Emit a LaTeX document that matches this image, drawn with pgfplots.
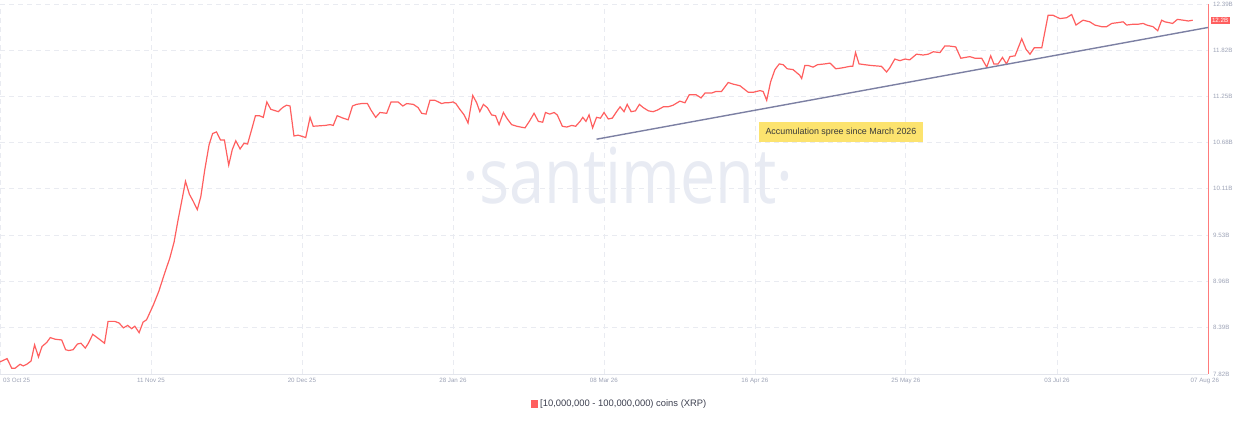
\documentclass[border=0pt]{standalone}
\usepackage{fontspec}
\setmainfont{Liberation Sans}
\newfontfamily\wmfont{Open Sans}
\usepackage{pgfplots}
\pgfplotsset{compat=1.18}
\definecolor{xrpline}{HTML}{FF5F5F}
\definecolor{axisred}{HTML}{FF7B7B}
\definecolor{axisgray}{HTML}{E3E5EC}
\definecolor{gridgray}{HTML}{E9EBF1}
\definecolor{ticktext}{HTML}{9DA3B6}
\definecolor{trend}{HTML}{7C80A3}
\definecolor{annofill}{HTML}{FCE36E}
\definecolor{annotext}{HTML}{3A3A3A}
\definecolor{wmark}{HTML}{E8EBF3}
\definecolor{legendtext}{HTML}{3C3F4F}

\begin{document}
\begin{tikzpicture}
\path[use as bounding box] (0,0) rectangle (1241pt,420pt);
% watermark behind everything
\node[anchor=base, text=wmark, font=\wmfont\fontsize{77}{80}\selectfont,
      xscale=0.82, inner sep=0pt] at (628pt,216pt) {·santiment·};

\begin{axis}[
    at={(0pt,46pt)}, anchor=south west,
    scale only axis, width=1208pt, height=370pt,
    xmin=0.6, xmax=308, ymin=7.82, ymax=12.39,
    axis x line*=bottom, axis y line*=right,
    x axis line style={draw=axisgray, line width=0.8pt, -},
    y axis line style={draw=axisred, line width=1pt, -},
    major tick length=0pt,
    grid=major,
    major grid style={draw=gridgray, line width=0.8pt, dash pattern=on 5pt off 4pt},
    xtick={39.01,77.43,115.86,154.28,192.70,231.12,269.57},
    xticklabels={11 Nov 25,20 Dec 25,28 Jan 26,08 Mar 26,16 Apr 26,25 May 26,03 Jul 26},
    extra x ticks={0.6},
    extra x tick labels={03 Oct 25},
    extra x tick style={xticklabel style={anchor=north west, xshift=3pt}},
    ytick={7.82,8.39,8.96,9.53,10.11,10.68,11.25,11.82,12.39},
    yticklabels={7.82B,8.39B,8.96B,9.53B,10.11B,10.68B,11.25B,11.82B,12.39B},
    ticklabel style={font=\fontsize{6.2}{7}\selectfont, text=ticktext, inner sep=0pt},
    xticklabel style={yshift=-4pt},
    yticklabel style={xshift=5pt},
    clip=false,
    legend style={draw=none, fill=none, at={(axis description cs:0.513,-0.081)},
        anchor=center, font=\fontsize{9.4}{10}\selectfont, text=legendtext},
    legend image code/.code={\fill[xrpline] (0pt,-3pt) rectangle (6pt,3pt);},
]

\addplot[xrpline, line width=1.2pt] coordinates {
(0.6,7.97)(2.4,8.01)(3.6,7.89)(4.4,7.89)(5.7,7.94)(6.5,7.92)(7.4,7.94)(8.5,7.98)
(9.4,8.18)(10.4,8.03)(11.3,8.16)(12.5,8.21)(13.4,8.27)(14.6,8.25)(16.3,8.24)(17.3,8.12)
(18.1,8.11)(19.2,8.12)(20.3,8.19)(21.2,8.20)(22.3,8.14)(23.1,8.20)(24.2,8.31)(25.6,8.26)
(27.2,8.20)(28.1,8.47)(29.8,8.47)(30.9,8.45)(32.0,8.39)(33.1,8.42)(34.1,8.38)(34.9,8.41)
(36.0,8.33)(37.0,8.46)(37.9,8.49)(39.6,8.67)(41.0,8.84)(42.6,9.08)(43.8,9.25)(44.9,9.45)
(45.9,9.72)(47.1,10.02)(47.8,10.20)(48.8,10.04)(49.8,9.95)(50.8,9.85)(51.7,10.01)(52.7,10.34)
(53.8,10.65)(54.7,10.79)(55.7,10.81)(56.7,10.71)(57.7,10.71)(58.8,10.40)(59.7,10.59)(60.6,10.70)
(61.7,10.60)(62.7,10.67)(63.6,10.66)(64.7,10.85)(65.6,11.01)(66.6,11.01)(67.6,10.99)(68.5,11.18)
(69.5,11.09)(71.4,11.06)(72.5,11.11)(73.5,11.14)(74.4,11.13)(75.4,10.76)(76.5,10.77)(78.4,10.74)
(79.5,10.99)(80.3,10.88)(83.3,10.89)(84.6,10.90)(85.4,10.89)(86.4,11.01)(87.9,10.98)(89.2,10.96)
(90.3,11.13)(91.3,11.15)(92.6,11.16)(94.1,11.16)(95.0,11.08)(96.2,10.99)(97.3,11.05)(99.0,11.04)
(100.1,11.18)(101.9,11.18)(103.1,11.13)(104.1,11.16)(105.8,11.15)(107.0,11.11)(107.9,11.04)(109.0,11.03)
(110.0,11.20)(111.3,11.20)(113.0,11.16)(113.8,11.17)(114.7,11.17)(115.9,11.18)(116.6,11.16)(117.6,11.09)
(118.7,11.02)(119.7,10.92)(120.9,11.26)(121.9,11.17)(122.7,11.06)(123.6,11.15)(124.6,11.11)(125.7,11.02)
(126.7,11.01)(127.6,10.90)(128.7,11.05)(129.7,10.97)(130.8,10.90)(132.1,10.88)(133.1,10.87)(134.2,10.86)
(135.3,10.94)(136.5,11.04)(137.6,10.94)(138.7,10.93)(139.4,11.05)(140.5,11.03)(141.6,11.05)(142.4,11.02)
(143.7,10.88)(144.8,10.87)(146.1,10.89)(147.1,10.88)(148.2,10.94)(148.9,10.99)(149.7,10.94)(150.5,11.02)
(151.4,10.86)(152.4,10.99)(153.4,10.98)(154.3,11.05)(155.4,10.97)(156.4,10.98)(157.5,11.06)(158.4,11.12)
(159.4,11.06)(160.2,11.15)(161.2,11.06)(162.3,11.07)(163.3,11.15)(164.3,11.11)(165.6,11.07)(166.8,11.06)
(167.9,11.08)(169.4,11.12)(170.6,11.12)(171.9,11.14)(173.6,11.19)(174.9,11.17)(176.0,11.27)(177.7,11.27)
(179.0,11.23)(180.0,11.29)(181.7,11.29)(182.8,11.31)(184.2,11.31)(185.9,11.42)(187.2,11.40)(188.9,11.38)
(191.0,11.30)(192.3,11.30)(194.0,11.32)(194.8,11.31)(195.7,11.20)(196.7,11.43)(197.8,11.58)(198.9,11.65)
(199.9,11.64)(200.9,11.59)(202.4,11.58)(204.1,11.51)(204.6,11.47)(205.4,11.63)(206.3,11.63)(207.5,11.61)
(208.6,11.64)(210.5,11.65)(211.8,11.66)(213.3,11.59)(214.8,11.60)(216.9,11.62)(217.6,11.62)(218.3,11.79)
(219.2,11.65)(220.7,11.64)(222.4,11.63)(224.9,11.62)(226.2,11.55)(227.0,11.60)(228.3,11.71)(229.6,11.69)
(230.9,11.71)(232.1,11.70)(233.8,11.77)(235.5,11.76)(236.8,11.77)(238.1,11.80)(239.8,11.79)(241.0,11.87)
(242.3,11.87)(243.8,11.86)(245.1,11.72)(247.4,11.74)(248.7,11.72)(250.4,11.72)(251.7,11.61)(252.7,11.75)
(253.5,11.65)(254.6,11.65)(255.7,11.73)(256.7,11.65)(257.6,11.74)(258.9,11.75)(260.6,11.96)(261.7,11.83)
(262.7,11.77)(263.8,11.85)(265.7,11.85)(267.3,12.25)(268.6,12.25)(270.3,12.21)(272.0,12.22)(273.3,12.26)
(274.4,12.13)(276.2,12.19)(277.9,12.17)(279.2,12.13)(280.9,12.11)(282.2,12.11)(283.5,12.15)(285.1,12.16)
(286.4,12.17)(287.3,12.13)(288.9,12.14)(290.2,12.14)(291.5,12.15)(292.4,12.13)(294.0,12.11)(295.2,12.06)
(296.2,12.19)(297.0,12.17)(299.0,12.15)(300.2,12.20)(301.7,12.19)(303.0,12.18)(304.1,12.19)
};
\addlegendentry{[10,000,000 - 100,000,000) coins (XRP)}

% trend line
\addplot[trend, line width=1.4pt, forget plot] coordinates {(152.4,10.72) (308,12.10)};

\node[fill=annofill, text=annotext, font=\fontsize{8.9}{10}\selectfont,
      minimum width=164pt, minimum height=20pt, inner sep=0pt]
      at (axis cs:214.6,10.81) {Accumulation spree since March 2026};

\node[fill=xrpline, text=white, font=\fontsize{6.2}{7}\selectfont,
      inner sep=1.3pt, anchor=west, xshift=2.5pt]
      at (axis cs:308,12.19) {12.2B};

% last date label, sits under the end of the axis
\node[anchor=north, text=ticktext, font=\fontsize{6.2}{7}\selectfont,
      inner sep=0pt, yshift=-4pt] at (axis cs:307.2,7.82) {07 Aug 26};
\end{axis}
\end{tikzpicture}
\end{document}
